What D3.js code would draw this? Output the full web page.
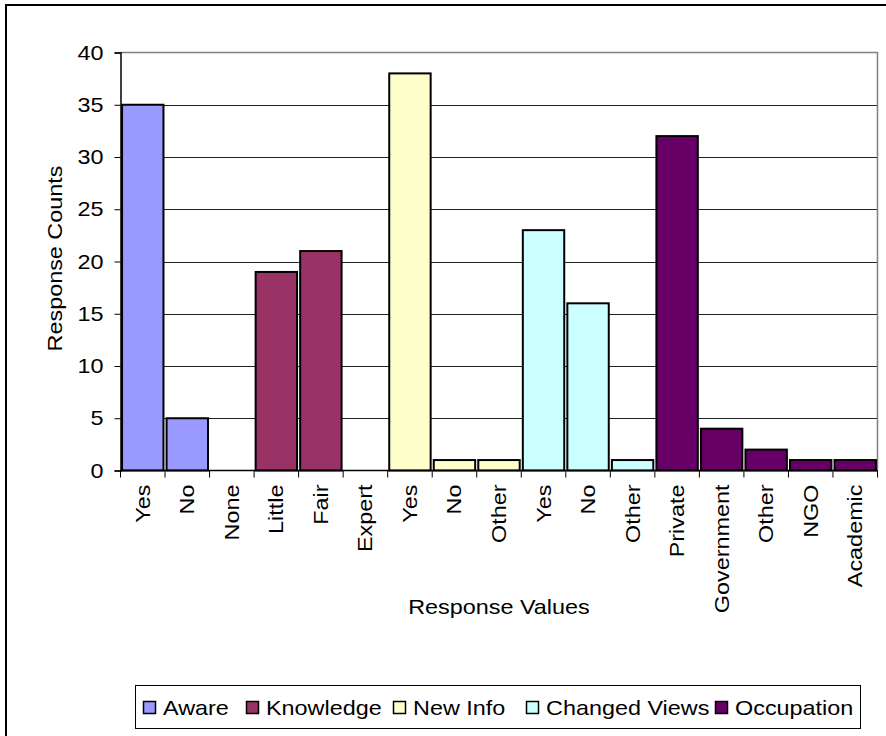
<!DOCTYPE html>
<html>
<head>
<meta charset="utf-8">
<script src="https://cdn.jsdelivr.net/npm/d3@7"></script>
<style>
  html, body { margin: 0; padding: 0; background: #fff; }
  svg { display: block; font-family: Arial, "Liberation Sans", sans-serif; }
</style>
</head>
<body>
<svg id="chart" width="886" height="736"></svg>
<script>
// Survey responses grouped by question
const categories = ["Yes", "No", "None", "Little", "Fair", "Expert", "Yes", "No", "Other",
                    "Yes", "No", "Other", "Private", "Government", "Other", "NGO", "Academic"];
const groups = ["Aware", "Aware", "Knowledge", "Knowledge", "Knowledge", "Knowledge",
                "New Info", "New Info", "New Info", "Changed Views", "Changed Views", "Changed Views",
                "Occupation", "Occupation", "Occupation", "Occupation", "Occupation"];
const counts = [35, 5, 0, 19, 21, 0, 38, 1, 1, 23, 16, 1, 32, 4, 2, 1, 1];
const seriesNames = ["Aware", "Knowledge", "New Info", "Changed Views", "Occupation"];
const seriesColors = ["#9999FF", "#993366", "#FFFFCC", "#CCFFFF", "#660066"];
const yTicks = [0, 5, 10, 15, 20, 25, 30, 35, 40];

const svg = d3.select("#chart");
const plot = { left: 120.5, right: 877.5, top: 52.5, bottom: 470.5 };
const FONT = 20, STRETCH = 1.17;   // slightly wide lettering along the writing direction

// outer frame (runs off the right and bottom edges)
svg.append("rect").attr("x", 6).attr("y", 5).attr("width", 1000).attr("height", 1000)
  .attr("fill", "#fff").attr("stroke", "#000").attr("stroke-width", 2);

const color = d3.scaleOrdinal().domain(seriesNames).range(seriesColors);
const x = d3.scaleBand().domain(d3.range(categories.length))
  .range([plot.left, plot.right]).paddingInner(0.07).paddingOuter(0.035);
const y = d3.scaleLinear().domain([0, 40]).range([plot.bottom, plot.top]);

// horizontal gridlines
svg.append("g").selectAll("line").data(yTicks.filter(t => t > 0 && t < 40)).join("line")
  .attr("x1", plot.left).attr("x2", plot.right)
  .attr("y1", d => Math.round(y(d)) + 0.5).attr("y2", d => Math.round(y(d)) + 0.5)
  .attr("stroke", "#222").attr("stroke-width", 1);

// plot area top and right edges
svg.append("path")
  .attr("d", `M${plot.left},${plot.top}H${plot.right}V${plot.bottom}`)
  .attr("fill", "none").attr("stroke", "#808080").attr("stroke-width", 1.5);

// bars
svg.append("g").selectAll("rect").data(counts).join("rect")
  .attr("x", (d, i) => x(i))
  .attr("width", x.bandwidth())
  .attr("y", d => y(d))
  .attr("height", d => y(0) - y(d))
  .attr("fill", (d, i) => color(groups[i]))
  .attr("stroke", d => d > 0 ? "#000" : "none")
  .attr("stroke-width", 2);

// y axis (line and ticks from d3, labels drawn wide)
const yAxis = d3.axisLeft(y).tickValues(yTicks).tickSize(6).tickFormat("");
const gy = svg.append("g").attr("transform", `translate(${plot.left},0)`).call(yAxis);
gy.select(".domain").attr("stroke", "#000").attr("stroke-width", 1.5);
gy.selectAll(".tick line").attr("stroke", "#000");
svg.append("g").selectAll("text").data(yTicks).join("text")
  .attr("transform", d => `translate(${plot.left - 17},${y(d)}) scale(${STRETCH},1)`)
  .attr("text-anchor", "end").attr("dy", "0.35em")
  .attr("font-size", FONT).attr("fill", "#000")
  .text(d => d);

// x axis: ticks at band boundaries
const boundaries = d3.range(categories.length + 1)
  .map(i => plot.left + i * (plot.right - plot.left) / categories.length);
svg.append("line").attr("x1", plot.left).attr("x2", plot.right)
  .attr("y1", plot.bottom).attr("y2", plot.bottom)
  .attr("stroke", "#000").attr("stroke-width", 1.5);
svg.append("g").selectAll("line").data(boundaries).join("line")
  .attr("x1", d => d).attr("x2", d => d)
  .attr("y1", plot.bottom).attr("y2", plot.bottom + 7)
  .attr("stroke", "#000").attr("stroke-width", 1);

// rotated category labels
svg.append("g").selectAll("text").data(categories).join("text")
  .attr("transform", (d, i) =>
    `translate(${x(i) + x.bandwidth() / 2},${plot.bottom + 14}) rotate(-90) scale(${STRETCH},1)`)
  .attr("text-anchor", "end").attr("dy", "0.35em")
  .attr("font-size", FONT).attr("fill", "#000")
  .text(d => d);

// axis titles
svg.append("text")
  .attr("transform", `translate(62,${(plot.top + plot.bottom) / 2 - 3}) rotate(-90) scale(${STRETCH},1)`)
  .attr("text-anchor", "middle").attr("font-size", FONT).text("Response Counts");
svg.append("text")
  .attr("transform", `translate(${(plot.left + plot.right) / 2},614) scale(${STRETCH},1)`)
  .attr("text-anchor", "middle").attr("font-size", FONT).text("Response Values");

// legend
const legend = svg.append("g");
legend.append("rect").attr("x", 135.5).attr("y", 685.5).attr("width", 725).attr("height", 43)
  .attr("fill", "#fff").attr("stroke", "#000").attr("stroke-width", 1);
const legendX = [143, 246, 393, 526, 715];
const items = legend.selectAll("g.item").data(seriesNames).join("g")
  .attr("transform", (d, i) => `translate(${legendX[i]},701)`);
items.append("rect").attr("x", 0.5).attr("y", 0.5).attr("width", 12).attr("height", 12)
  .attr("fill", d => color(d)).attr("stroke", "#000").attr("stroke-width", 1.5);
items.append("text").attr("transform", `translate(20,14) scale(${STRETCH},1)`)
  .attr("font-size", FONT).text(d => d);
</script>
</body>
</html>
